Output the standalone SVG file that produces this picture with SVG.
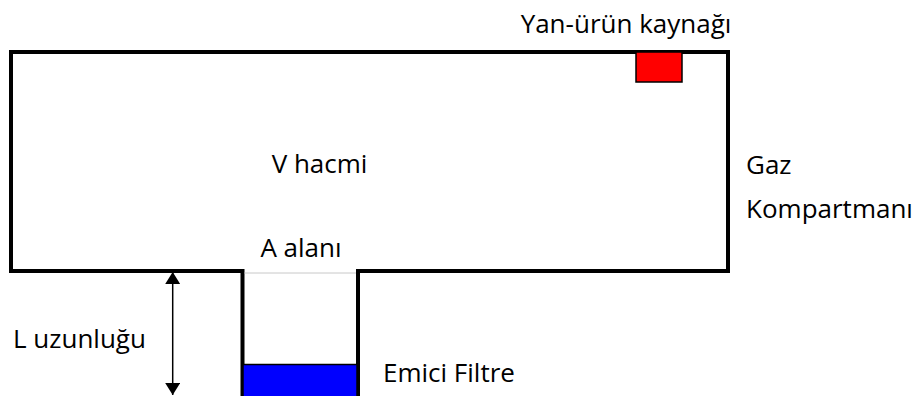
<svg xmlns="http://www.w3.org/2000/svg" width="916" height="396" viewBox="0 0 916 396">
<defs>
<style>
.lbl{font-family:"Open Sans","Liberation Sans",sans-serif;font-size:26px;fill:#000}
.wall{fill:none;stroke:#000;stroke-width:4;stroke-linejoin:miter;stroke-linecap:butt}
.dim{stroke:#000;stroke-width:1.5;fill:none}
</style>
<marker id="ah" viewBox="0 0 12 15" refX="12" refY="7.5" markerWidth="12" markerHeight="15" markerUnits="userSpaceOnUse" orient="auto-start-reverse">
<path d="M0,0 L12,7.5 L0,15 Z" fill="#000"/>
</marker>
</defs>
<rect width="916" height="396" fill="#fff"/>
<g id="compartment">
<path class="wall" d="M242.5,396 L242.5,271 L11,271 L11,52 L728,52 L728,271 L358,271 L358,396"/>
<line x1="244.5" y1="273" x2="356" y2="273" stroke="#c8c8c8" stroke-width="1"/>
<text class="lbl" x="319.5" y="173" text-anchor="middle">V hacmi</text>
<text class="lbl" x="746" y="174">Gaz</text>
<text class="lbl" x="746" y="218">Kompartmanı</text>
<text class="lbl" x="301" y="257" text-anchor="middle">A alanı</text>
</g>
<g id="source">
<rect x="636" y="52" width="46" height="30" fill="#ff0000" stroke="#000" stroke-width="1.5"/>
<text class="lbl" x="626" y="33" text-anchor="middle">Yan-ürün kaynağı</text>
</g>
<g id="filter">
<rect x="243" y="364.5" width="114" height="33" fill="#0000ff" stroke="#000" stroke-width="1.5"/>
<text class="lbl" x="383" y="382">Emici Filtre</text>
</g>
<g id="connectors">
<line class="dim" x1="172.7" y1="272" x2="172.7" y2="395" marker-start="url(#ah)" marker-end="url(#ah)"/>
<text class="lbl" x="13" y="348">L uzunluğu</text>
</g>
</svg>
